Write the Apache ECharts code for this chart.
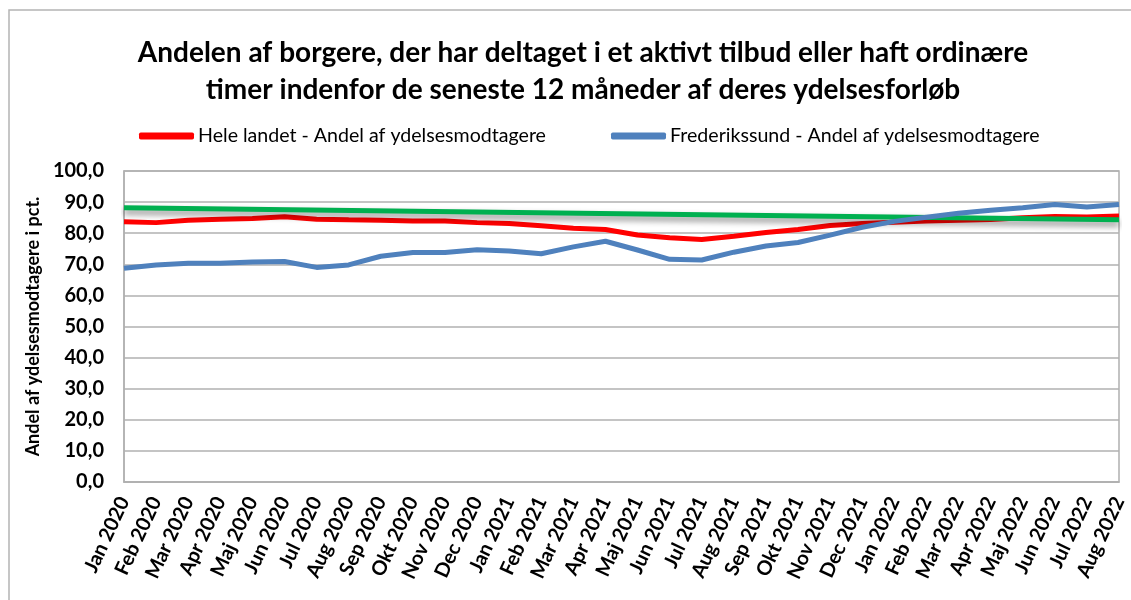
<!DOCTYPE html>
<html>
<head>
<meta charset="utf-8">
<script src="https://cdn.jsdelivr.net/npm/echarts@6/dist/echarts.min.js"></script>
<style>
  html, body { margin: 0; padding: 0; background: #fff; }
  #chart { width: 1131px; height: 600px; }
</style>
</head>
<body>
<div id="chart"></div>
<script>
// kategorier (måneder)
const months = [
  'Jan 2020', 'Feb 2020', 'Mar 2020', 'Apr 2020', 'Maj 2020', 'Jun 2020',
  'Jul 2020', 'Aug 2020', 'Sep 2020', 'Okt 2020', 'Nov 2020', 'Dec 2020',
  'Jan 2021', 'Feb 2021', 'Mar 2021', 'Apr 2021', 'Maj 2021', 'Jun 2021',
  'Jul 2021', 'Aug 2021', 'Sep 2021', 'Okt 2021', 'Nov 2021', 'Dec 2021',
  'Jan 2022', 'Feb 2022', 'Mar 2022', 'Apr 2022', 'Maj 2022', 'Jun 2022',
  'Jul 2022', 'Aug 2022'
]

// Hele landet - Andel af ydelsesmodtagere
const heleLandet = [
  83.7, 83.4, 84.2, 84.5, 84.7, 85.3, 84.5, 84.3, 84.2, 83.9, 83.9, 83.4,
  83.1, 82.4, 81.6, 81.2, 79.4, 78.5, 78.0, 79.0, 80.2, 81.2, 82.5, 83.1,
  83.5, 83.9, 84.2, 84.4, 85.0, 85.4, 85.2, 85.5
]

// Frederikssund - Andel af ydelsesmodtagere
const frederikssund = [
  68.7, 69.8, 70.3, 70.3, 70.7, 70.9, 69.0, 69.8, 72.6, 73.8, 73.8, 74.7,
  74.3, 73.4, 75.6, 77.4, 74.6, 71.6, 71.4, 73.9, 75.9, 77.0, 79.4, 81.9,
  83.8, 85.1, 86.4, 87.4, 88.2, 89.2, 88.4, 89.2
]

// tendenslinje: start- og slutværdi
const trendEnds = [88.2, 84.3]

const yTicks = { min: 0, max: 100, interval: 10 }

const trendData = months.map((m, i) => {
  if (i === 0) return trendEnds[0]
  if (i === months.length - 1) return trendEnds[1]
  return null
})

const chart = echarts.init(document.getElementById('chart'))

const fontFam = 'Lato, "Liberation Sans", sans-serif'

const options = {
  animation: false,
  title: {
    text: 'Andelen af borgere, der har deltaget i et aktivt tilbud eller haft ordinære\ntimer indenfor de seneste 12 måneder af deres ydelsesforløb',
    left: 578,
    textAlign: 'center',
    top: 29,
    textStyle: {
      fontFamily: fontFam,
      fontSize: 28,
      fontWeight: 'bold',
      color: '#000',
      lineHeight: 37
    }
  },
  legend: [
    {
      data: ['Hele landet - Andel af ydelsesmodtagere'],
      left: 134,
      top: 121,
      icon: 'roundRect',
      itemWidth: 55,
      itemHeight: 7,
      textStyle: { fontFamily: fontFam, fontSize: 19.6, color: '#000', padding: [0, 0, 0, -1] }
    },
    {
      data: ['Frederikssund - Andel af ydelsesmodtagere'],
      left: 606,
      top: 121,
      icon: 'roundRect',
      itemWidth: 55,
      itemHeight: 7,
      textStyle: { fontFamily: fontFam, fontSize: 19.6, color: '#000', padding: [0, 0, 0, -1] }
    }
  ],
  grid: {
    left: 124,
    right: 12,
    top: 171,
    bottom: 118,
    show: true,
    borderColor: '#b0b0b0',
    borderWidth: 1.5
  },
  xAxis: {
    type: 'category',
    data: months,
    boundaryGap: false,
    axisLine: { lineStyle: { color: '#b0b0b0', width: 1.5 } },
    axisTick: { show: false },
    axisLabel: {
      interval: 0,
      rotate: 65,
      margin: 16,
      fontFamily: fontFam,
      fontSize: 20,
      fontWeight: 'bold',
      color: '#000'
    }
  },
  yAxis: {
    type: 'value',
    min: yTicks.min,
    max: yTicks.max,
    interval: yTicks.interval,
    name: 'Andel af ydelsesmodtagere i pct.',
    nameLocation: 'middle',
    nameRotate: 90,
    nameGap: 80,
    nameTextStyle: {
      fontFamily: fontFam,
      fontSize: 18,
      fontWeight: 'bold',
      color: '#000'
    },
    axisLine: { show: true, lineStyle: { color: '#b0b0b0', width: 1.5 } },
    axisTick: { show: false },
    splitLine: { lineStyle: { color: '#b0b0b0', width: 1.5 } },
    axisLabel: {
      margin: 20,
      fontFamily: fontFam,
      fontSize: 20,
      fontWeight: 'bold',
      color: '#000',
      formatter: v => v.toFixed(1).replace('.', ',')
    }
  },
  series: [
    {
      name: 'Hele landet - Andel af ydelsesmodtagere',
      type: 'line',
      data: heleLandet,
      symbol: 'none',
      color: '#ff0000',
      lineStyle: { width: 5, color: '#ff0000' },
      z: 2
    },
    {
      name: 'Tendens',
      type: 'line',
      data: trendData,
      connectNulls: true,
      symbol: 'none',
      color: '#00b050',
      lineStyle: {
        width: 5,
        color: '#00b050',
        shadowColor: 'rgba(0,0,0,0.45)',
        shadowBlur: 6,
        shadowOffsetY: 4
      },
      z: 3
    },
    {
      name: 'Frederikssund - Andel af ydelsesmodtagere',
      type: 'line',
      data: frederikssund,
      symbol: 'none',
      color: '#4f81bd',
      lineStyle: { width: 5, color: '#4f81bd' },
      z: 4
    }
  ],
  graphic: [
    {
      type: 'rect',
      shape: { x: 9, y: 10, width: 1150, height: 640 },
      style: { fill: 'none', stroke: '#b4b4b4', lineWidth: 1.5 },
      silent: true,
      z: -1
    }
  ]
}

chart.setOption(options)
</script>
</body>
</html>
